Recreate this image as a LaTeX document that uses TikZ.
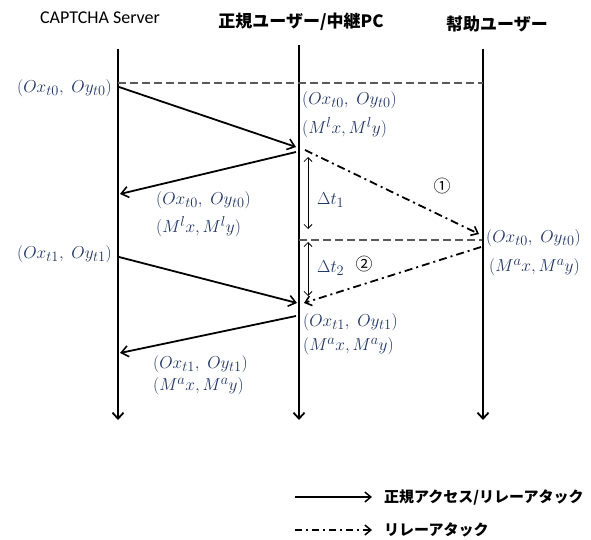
\documentclass[tikz,border=0pt]{standalone}
\usepackage{fontspec}
\setmainfont{Carlito}
\newfontfamily\jp{Noto Sans CJK JP}
\usetikzlibrary{arrows.meta}
\definecolor{mblue}{RGB}{30,52,100}
\definecolor{dgray}{RGB}{90,90,90}
\begin{document}
\begin{tikzpicture}[x=1pt,y=-1pt,
  life/.style={line width=1.8pt,-{Straight Barb[length=6pt,width=11pt,line width=1.8pt]}},
  msg/.style={line width=1.8pt,-{Straight Barb[length=7pt,width=11pt,line width=1.6pt]}},
  relay/.style={line width=1.8pt,dash pattern=on 8pt off 4pt on 2pt off 4pt,-{Straight Barb[length=6pt,width=10pt,line width=1.6pt]}},
  sync/.style={line width=1.4pt,dgray,dash pattern=on 8pt off 4pt},
  dt/.style={line width=0.8pt,{Straight Barb[length=4pt,width=8pt]}-{Straight Barb[length=4pt,width=8pt]}},
  mlab/.style={text=mblue,font=\fontsize{19}{22}\selectfont,inner sep=0pt},
  ttl/.style={inner sep=0pt},
  circ/.style={inner sep=0pt,font=\jp\fontsize{17}{19}\selectfont}]
\useasboundingbox (0,0) rectangle (591,540);
% titles
\node[ttl,font=\fontsize{18}{20}\selectfont] (t1) at (100,18) {CAPTCHA Server};
\node[ttl,font=\jp\bfseries\fontsize{17}{20}\selectfont] (t2) at (301,22) {正規ユーザー/中継PC};
\node[ttl,font=\jp\bfseries\fontsize{17}{20}\selectfont] (t3) at (497,24) {幇助ユーザー};
% lifelines
\coordinate (sa) at (118,49); \coordinate (sb) at (118,420);
\coordinate (ma) at (299,45); \coordinate (mb) at (299,420);
\coordinate (ra) at (483,49); \coordinate (rb) at (483,420);
\draw[life] (sa) -- (sb);
\draw[life] (ma) -- (mb);
\draw[life] (ra) -- (rb);
% sync dashed lines
\coordinate (d1a) at (118,83); \coordinate (d1b) at (483,83);
\coordinate (d2a) at (299,240); \coordinate (d2b) at (482,240);
\draw[sync] (d1a) -- (d1b);
\draw[sync] (d2a) -- (d2b);
% messages
\coordinate (m1a) at (119,87);  \coordinate (m1b) at (296,147);
\coordinate (m2a) at (296,152); \coordinate (m2b) at (120,194);
\coordinate (m3a) at (119,257); \coordinate (m3b) at (297,303);
\coordinate (m4a) at (296,316); \coordinate (m4b) at (120,353);
\draw[msg] (m1a) -- (m1b);
\draw[msg] (m2a) -- (m2b);
\draw[msg] (m3a) -- (m3b);
\draw[msg] (m4a) -- (m4b);
% relay
\coordinate (r1a) at (305,150); \coordinate (r1b) at (479,234);
\coordinate (r2a) at (481,247); \coordinate (r2b) at (304,303);
\draw[relay] (r1a) -- (r1b);
\draw[relay] (r2a) -- (r2b);
% delta t
\coordinate (dt1a) at (308,157); \coordinate (dt1b) at (308,229);
\coordinate (dt2a) at (308,242); \coordinate (dt2b) at (308,296);
\draw[dt] (dt1a) -- (dt1b);
\draw[dt] (dt2a) -- (dt2b);
\node[mlab,anchor=west] (dl1) at (317,200) {$\Delta t_1$};
\node[mlab,anchor=west] (dl2) at (317,268) {$\Delta t_2$};
\node[circ] (c1) at (442,186) {①};
\node[circ] (c2) at (364,264) {②};
% labels
\node[mlab,anchor=east] (l1) at (112,88) {$(Ox_{t0},\;Oy_{t0})$};
\node[mlab,anchor=west] (l2) at (302,100) {$(Ox_{t0},\;Oy_{t0})$};
\node[mlab,anchor=west] (l3) at (302,128) {$\bigl(M^l x, M^l y\bigr)$};
\node[mlab,anchor=west] (l4) at (156,200) {$(Ox_{t0},\;Oy_{t0})$};
\node[mlab,anchor=west] (l5) at (156,227) {$\bigl(M^l x, M^l y\bigr)$};
\node[mlab,anchor=west] (l6) at (486,238) {$(Ox_{t0},\;Oy_{t0})$};
\node[mlab,anchor=west] (l7) at (489,267) {$(M^a x, M^a y)$};
\node[mlab,anchor=east] (l8) at (112,254) {$(Ox_{t1},\;Oy_{t1})$};
\node[mlab,anchor=west] (l9) at (303,322) {$(Ox_{t1},\;Oy_{t1})$};
\node[mlab,anchor=west] (l10) at (303,346) {$(M^a x, M^a y)$};
\node[mlab,anchor=west] (l11) at (153,364) {$(Ox_{t1},\;Oy_{t1})$};
\node[mlab,anchor=west] (l12) at (153,386) {$(M^a x, M^a y)$};
% legend
\coordinate (g1a) at (295,497); \coordinate (g1b) at (372,497);
\coordinate (g2a) at (295,530); \coordinate (g2b) at (372,530);
\draw[line width=1.6pt,-{Straight Barb[length=6pt,width=10pt,line width=1.5pt]}] (g1a) -- (g1b);
\draw[line width=1.6pt,dash pattern=on 7pt off 4pt on 2pt off 4pt,-{Straight Barb[length=6pt,width=10pt,line width=1.5pt]}] (g2a) -- (g2b);
\node[ttl,anchor=west,font=\jp\bfseries\fontsize{15}{17}\selectfont] (lg1) at (384,497) {正規アクセス/リレーアタック};
\node[ttl,anchor=west,font=\jp\bfseries\fontsize{15}{17}\selectfont] (lg2) at (384,530) {リレーアタック};
\end{tikzpicture}
\end{document}
